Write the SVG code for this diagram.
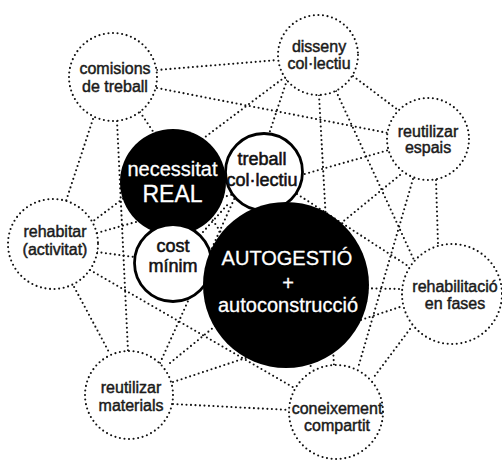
<svg xmlns="http://www.w3.org/2000/svg" width="502" height="461" viewBox="0 0 502 461">
<style>
.c{fill:none;stroke:#111;stroke-width:2.1;stroke-linecap:round;stroke-dasharray:0 4.5}
.dn{fill:#fff;stroke:#111;stroke-width:2.1;stroke-linecap:round;stroke-dasharray:0 4.6}
.wn{fill:#fff;stroke:#000;stroke-width:2.8}
.bn{fill:#000}
text{font-family:"Liberation Sans",Arial,sans-serif;text-anchor:middle}
.t{font-size:16px;fill:#1a1a1a;stroke:#1a1a1a;stroke-width:0.45}
.tw{font-size:18px;fill:#111;stroke:#111;stroke-width:0.55}
.tb{fill:#fff;stroke:#fff;stroke-width:0.3}
</style>
<rect width="502" height="461" fill="#fff"/>
<g id="connectors">
<path class="c" d="M157,70 L278,60"/>
<path class="c" d="M157,88 L388,133"/>
<path class="c" d="M93,119 L66,201"/>
<path class="c" d="M117,121 L128,351"/>
<path class="c" d="M140,112 L312,368"/>
<path class="c" d="M285,77 L92,222"/>
<path class="c" d="M287,80 L269,134"/>
<path class="c" d="M319,95 L334,366"/>
<path class="c" d="M353,76 L398,110"/>
<path class="c" d="M336,91 L414,260"/>
<path class="c" d="M400,175 L170,363"/>
<path class="c" d="M97,233 L389,150"/>
<path class="c" d="M436,180 L438,244"/>
<path class="c" d="M413,179 L358,368"/>
<path class="c" d="M300,287 L402,289"/>
<path class="c" d="M297,194 L408,266"/>
<path class="c" d="M410,329 L374,377"/>
<path class="c" d="M173,382 L403,306"/>
<path class="c" d="M173,404 L290,410"/>
<path class="c" d="M160,363 L236,195"/>
<path class="c" d="M72,283 L110,354"/>
<path class="c" d="M97,252 L134,257"/>
<path class="c" d="M90,270 L296,389"/>
<path class="c" d="M203,232 L229,203"/>
</g>
<g id="comisions">
<circle class="dn" cx="113" cy="77" r="44"/>
<text class="t" x="115" y="74">comisions</text>
<text class="t" x="115" y="92">de treball</text>
</g>
<g id="disseny">
<circle class="dn" cx="318" cy="55" r="40"/>
<text class="t" x="319" y="52">disseny</text>
<text class="t" x="319" y="69">col·lectiu</text>
</g>
<g id="espais">
<circle class="dn" cx="428" cy="139" r="41"/>
<text class="t" x="428" y="137">reutilizar</text>
<text class="t" x="428" y="153">espais</text>
</g>
<g id="rehabitar">
<circle class="dn" cx="53" cy="244" r="45"/>
<text class="t" x="55" y="237">rehabitar</text>
<text class="t" x="55" y="255">(activitat)</text>
</g>
<g id="materials">
<circle class="dn" cx="129" cy="395" r="44"/>
<text class="t" x="131" y="393">reutilizar</text>
<text class="t" x="131" y="411">materials</text>
</g>
<g id="fases">
<circle class="dn" cx="452" cy="294" r="50"/>
<text class="t" x="455" y="292">rehabilitació</text>
<text class="t" x="455" y="309">en fases</text>
</g>
<g id="coneixement">
<circle class="dn" cx="336" cy="412" r="47"/>
<text class="t" x="337" y="414">coneixement</text>
<text class="t" x="337" y="431">compartit</text>
</g>
<g id="necessitat">
<circle class="bn" cx="173" cy="182" r="53"/>
<text class="tb" x="172.5" y="176" font-size="20">necessitat</text>
<text class="tb" x="172.5" y="202" font-size="23">REAL</text>
</g>
<g id="treball">
<circle class="wn" cx="264" cy="172" r="38.5"/>
<text class="tw" x="262" y="165">treball</text>
<text class="tw" x="262" y="186">col·lectiu</text>
</g>
<g id="cost">
<circle class="wn" cx="173" cy="263" r="38.5"/>
<text class="tw" x="173" y="252" font-size="17.5">cost</text>
<text class="tw" x="173" y="272" font-size="17.5">mínim</text>
</g>
<g id="autogestio">
<circle class="bn" cx="286" cy="285" r="83"/>
<text class="tb" x="287" y="265" font-size="20">AUTOGESTIÓ</text>
<text class="tb" x="288" y="290" font-size="20">+</text>
<text class="tb" x="288" y="312" font-size="20">autoconstrucció</text>
</g>
</svg>
